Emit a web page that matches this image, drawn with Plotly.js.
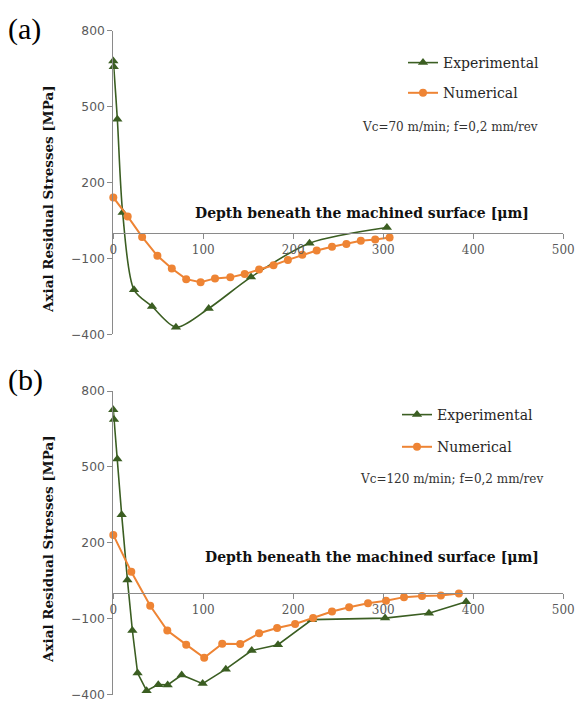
<!DOCTYPE html>
<html>
<head>
<meta charset="utf-8">
<script src="https://cdn.plot.ly/plotly-3.0.1.min.js"></script>
<style>html,body{margin:0;padding:0;background:#fff;}#chart{width:577px;height:702px;}</style>
</head>
<body>
<div id="chart"></div>
<script>
// ---- data (a) Vc=70 m/min ----
const expA_x = [0, 0.5, 4.5, 10.4, 23, 43, 69.6, 106, 153, 218, 304];
const expA_y = [680, 658, 450, 81, -224, -290, -372, -298, -174, -40, 22];
const numA_x = [0, 16, 32, 49, 65, 81, 97, 113, 130, 146, 162, 178, 194, 210, 226, 243, 259, 275, 291, 307];
const numA_y = [141, 66, -15, -90, -140, -182, -194, -179, -175, -162, -144, -127, -106, -86, -69, -54, -43, -30, -25, -17];
// ---- data (b) Vc=120 m/min ----
const expB_x = [0, 0.8, 4.5, 9.3, 15.7, 21.2, 27, 37, 50, 60.4, 76, 99.3, 125, 153.8, 183, 220.8, 302, 350.7, 392];
const expB_y = [726, 687, 531, 311, 53, -147, -315, -385, -361, -362, -323, -357, -300, -226, -203, -104, -98, -79, -33];
const numB_x = [0, 20, 41, 60, 81, 101, 121, 141, 162, 182, 202, 222, 243, 262, 283, 303, 323, 343, 364, 384];
const numB_y = [231, 85, -49, -147, -203, -255, -199, -200, -158, -137, -121, -98, -72, -55, -39, -29, -15, -11, -9, -1];
// ---- axis ticks / labels ----
const xTicks = [0, 100, 200, 300, 400, 500];
const yTicks = [-400, -100, 200, 500, 800];
const seriesNames = ['Experimental', 'Numerical'];
const panelLabels = ['(a)', '(b)'];
const condLabels = ['Vc=70 m/min; f=0,2 mm/rev', 'Vc=120 m/min; f=0,2 mm/rev'];
const xTitle = 'Depth beneath the machined surface [μm]';
const yTitle = 'Axial Residual Stresses [MPa]';

const W = 577, H = 702;
const GREEN = '#3b5e22', ORANGE = '#ee8434', AXIS = '#8a8a8a';
const px = v => v / W, py = v => 1 - v / H;

const xDom = [px(113.3), px(563.3)];
const yDomA = [py(334.3), py(30.7)];
const yDomB = [py(694.5), py(391)];
const yMin = -400, yMax = 800;
const zeroPos = d => d[0] + (0 - yMin) / (yMax - yMin) * (d[1] - d[0]);

function expTrace(x, y, xa, ya, leg, grp, smooth) {
  return {x, y, xaxis: xa, yaxis: ya, type: 'scatter', mode: 'lines+markers', name: seriesNames[0],
    legend: leg, legendgroup: grp, cliponaxis: false,
    line: {color: GREEN, width: 1.6, shape: smooth ? 'spline' : 'linear', smoothing: 0.8},
    marker: {symbol: 'triangle-up', size: 9, color: GREEN}};
}
function numTrace(x, y, xa, ya, leg, grp) {
  return {x, y, xaxis: xa, yaxis: ya, type: 'scatter', mode: 'lines+markers', name: seriesNames[1],
    legend: leg, legendgroup: grp, cliponaxis: false,
    line: {color: ORANGE, width: 2}, marker: {symbol: 'circle', size: 8, color: ORANGE}};
}
const data = [
  expTrace(expA_x, expA_y, 'x', 'y', 'legend', 'a1', true),
  numTrace(numA_x, numA_y, 'x', 'y', 'legend', 'a2'),
  expTrace(expB_x, expB_y, 'x2', 'y2', 'legend2', 'b1', false),
  numTrace(numB_x, numB_y, 'x2', 'y2', 'legend2', 'b2')
];

function xAxis(dom) {
  return {domain: xDom, range: [0, 500], anchor: 'free', position: zeroPos(dom), tickvals: xTicks,
    ticks: 'outside', ticklen: 5, tickcolor: AXIS, showline: true, linecolor: AXIS, linewidth: 1,
    showgrid: false, zeroline: false, fixedrange: true,
    tickfont: {family: 'DejaVu Serif', size: 12, color: '#595959'}};
}
function yAxis(dom, anchor) {
  return {domain: dom, range: [yMin - 0.01, yMax], anchor: anchor, tickvals: yTicks,
    ticks: 'outside', ticklen: 5, tickcolor: AXIS, showline: true, linecolor: AXIS, linewidth: 1,
    showgrid: false, zeroline: false, fixedrange: true,
    tickfont: {family: 'DejaVu Sans', size: 12.3, color: '#595959'}};
}
const legFont = {family: 'DejaVu Serif', size: 14, color: '#262626'};
const boldFont = {family: 'DejaVu Serif', size: 14, color: '#111', weight: 'bold'};
const yTitleFont = {family: 'DejaVu Serif', size: 13.5, color: '#111', weight: 'bold'};
const layout = {
  width: W, height: H, margin: {l: 0, r: 0, t: 0, b: 0, autoexpand: false},
  paper_bgcolor: '#fff', plot_bgcolor: 'rgba(0,0,0,0)', showlegend: true,
  xaxis: xAxis(yDomA), yaxis: yAxis(yDomA, 'x'),
  xaxis2: xAxis(yDomB), yaxis2: yAxis(yDomB, 'x2'),
  legend: {x: px(403), y: py(47), xanchor: 'left', yanchor: 'top', font: legFont,
    bgcolor: 'rgba(0,0,0,0)', tracegroupgap: 9, itemwidth: 30},
  legend2: {x: px(397), y: py(399), xanchor: 'left', yanchor: 'top', font: legFont,
    bgcolor: 'rgba(0,0,0,0)', tracegroupgap: 11, itemwidth: 30},
  annotations: [
    {text: panelLabels[0], xref: 'paper', yref: 'paper', x: px(6), y: py(29), xanchor: 'left', yanchor: 'middle', showarrow: false, font: {family: 'Liberation Serif', size: 30, color: '#000'}},
    {text: panelLabels[1], xref: 'paper', yref: 'paper', x: px(6), y: py(380), xanchor: 'left', yanchor: 'middle', showarrow: false, font: {family: 'Liberation Serif', size: 30, color: '#000'}},
    {text: xTitle, xref: 'paper', yref: 'paper', x: px(362), y: py(213), xanchor: 'center', yanchor: 'middle', showarrow: false, font: boldFont},
    {text: xTitle, xref: 'paper', yref: 'paper', x: px(372), y: py(557), xanchor: 'center', yanchor: 'middle', showarrow: false, font: boldFont},
    {text: yTitle, xref: 'paper', yref: 'paper', x: px(48), y: py(199), xanchor: 'center', yanchor: 'middle', textangle: -90, showarrow: false, font: yTitleFont},
    {text: yTitle, xref: 'paper', yref: 'paper', x: px(48), y: py(549), xanchor: 'center', yanchor: 'middle', textangle: -90, showarrow: false, font: yTitleFont},
    {text: condLabels[0], xref: 'paper', yref: 'paper', x: px(450), y: py(127), xanchor: 'center', yanchor: 'middle', showarrow: false, font: {family: 'DejaVu Serif', size: 12, color: '#333'}},
    {text: condLabels[1], xref: 'paper', yref: 'paper', x: px(451), y: py(479), xanchor: 'center', yanchor: 'middle', showarrow: false, font: {family: 'DejaVu Serif', size: 12, color: '#333'}}
  ]
};
Plotly.newPlot('chart', data, layout, {displayModeBar: false, staticPlot: true});
</script>
</body>
</html>
